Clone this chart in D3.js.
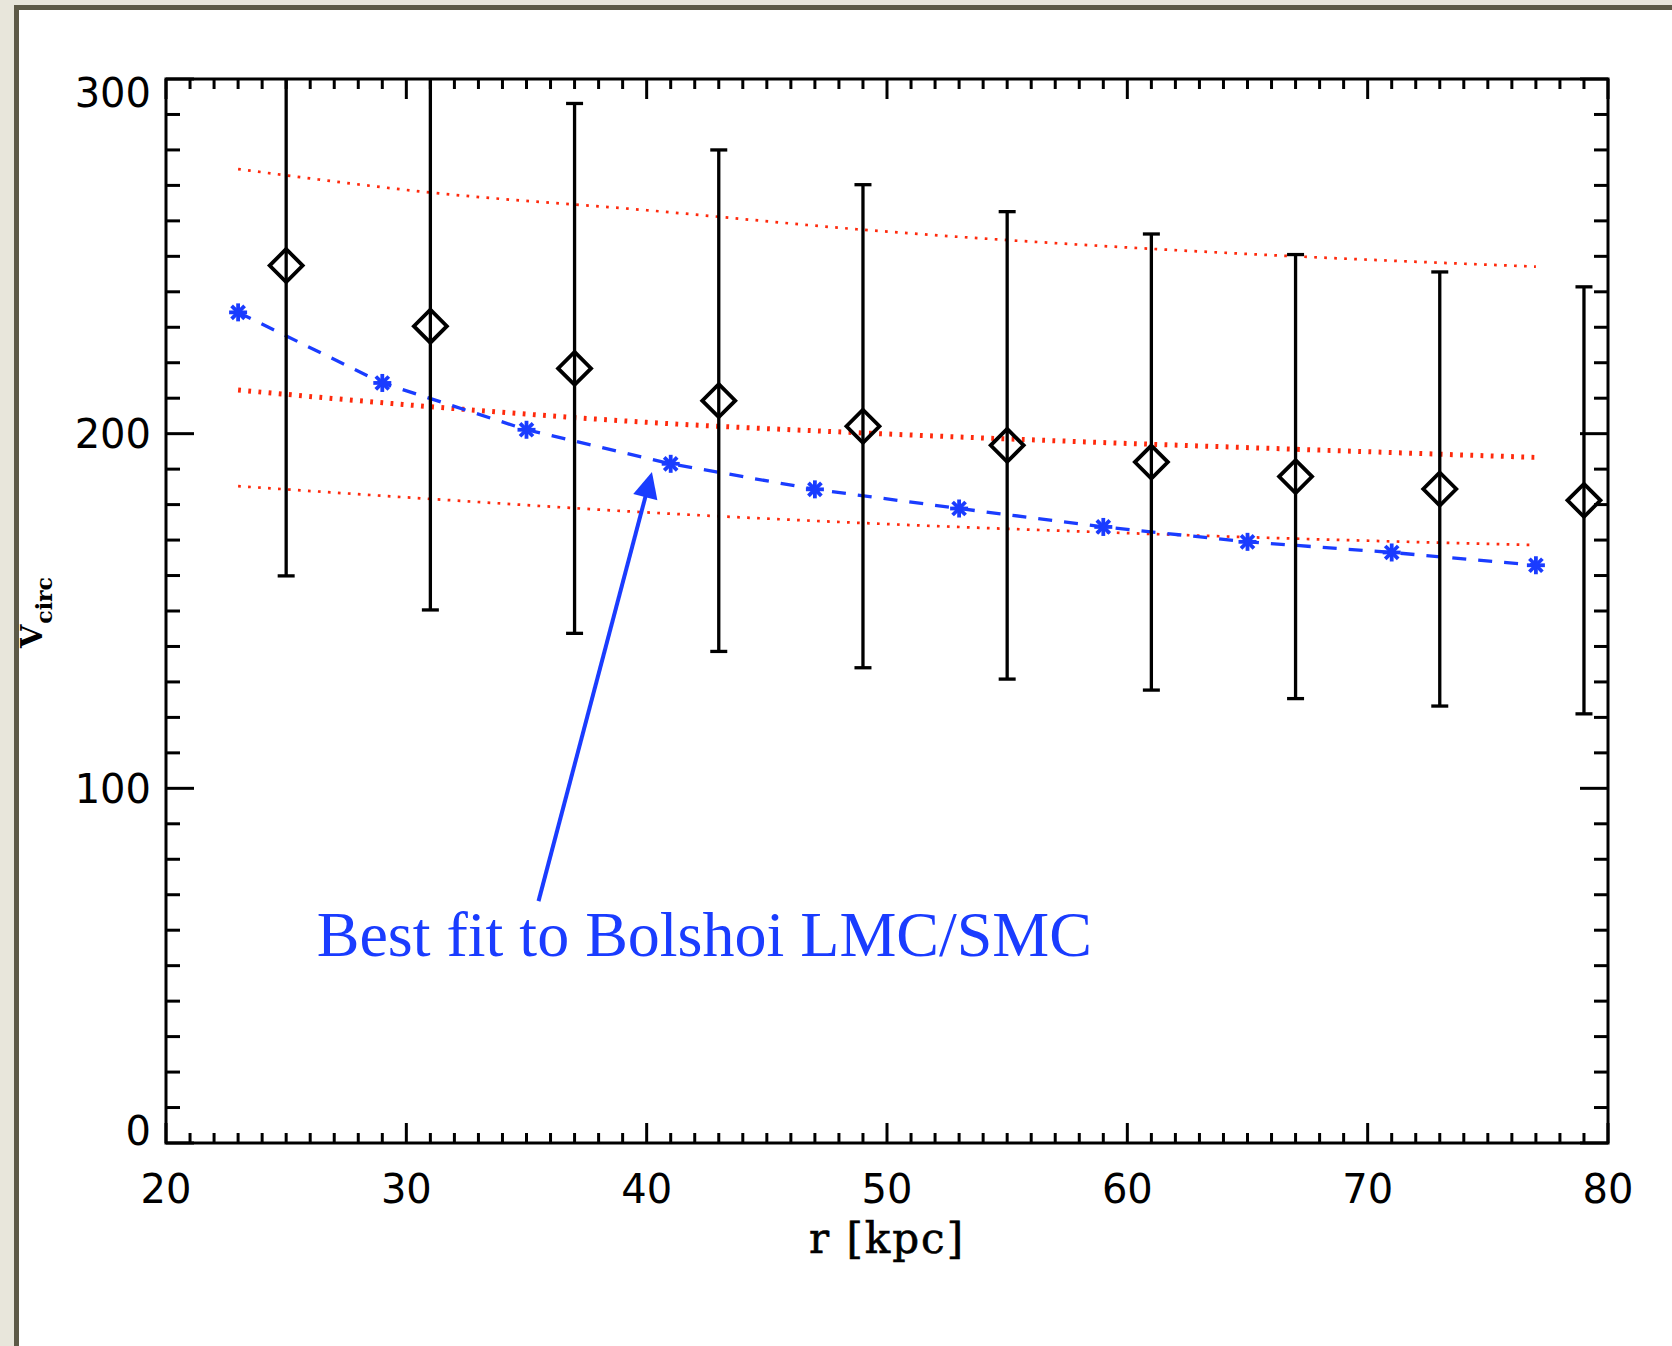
<!DOCTYPE html>
<html>
<head>
<meta charset="utf-8">
<script src="https://cdn.jsdelivr.net/npm/d3@7"></script>
<style>
  html, body { margin: 0; padding: 0; background: #e8e6db; }
  svg { display: block; }
</style>
</head>
<body>
<script>
// Radial bins with measured circular velocity and its 1-sigma error
const binR = [25, 31, 37, 43, 49, 55, 61, 67, 73, 79];
const binV = [247.4, 230.3, 218.4, 209.3, 202.1, 196.7, 192.0, 187.9, 184.4, 181.2];
const binErr = [87.5, 80.0, 74.7, 70.7, 68.1, 65.9, 64.3, 62.6, 61.2, 60.2];

// Best-fit curve from the Bolshoi LMC/SMC analogues
const fitR = [23, 29, 35, 41, 47, 53, 59, 65, 71, 77];
const fitV = [234.2, 214.3, 201.1, 191.5, 184.3, 178.9, 173.7, 169.5, 166.5, 162.9];

// Power-law fit (middle) and its upper / lower envelope
const bandR = [23, 31, 40, 49, 59, 67, 77];
const bandUpper = [274.6, 268.0, 263.0, 257.5, 252.9, 250.0, 247.1];
const bandMid = [212.3, 207.6, 203.2, 200.2, 197.5, 195.6, 193.3];
const bandLower = [185.2, 181.6, 177.8, 174.8, 172.2, 170.4, 168.6];

// Axis ticks
const xMajor = [20, 30, 40, 50, 60, 70, 80];
const yMajor = [0, 100, 200, 300];

const annotationText = "Best fit to Bolshoi LMC/SMC";

const W = 1672, H = 1346;
const blue = "#1a3cff", red = "#ff2a0c";

const svg = d3.select("body").append("svg").attr("width", W).attr("height", H);

// Page frame: backdrop, dark rule and white sheet
svg.append("rect").attr("x", 0).attr("y", 0).attr("width", W).attr("height", H).attr("fill", "#e8e6db");
svg.append("rect").attr("x", 14).attr("y", 5).attr("width", W).attr("height", H).attr("fill", "#5d5a47");
svg.append("rect").attr("x", 19).attr("y", 10).attr("width", W).attr("height", H).attr("fill", "#ffffff");

const pL = 166, pR = 1608, pT = 79, pB = 1143;
const x = d3.scaleLinear().domain([20, 80]).range([pL, pR]);
const y = d3.scaleLinear().domain([0, 300]).range([pB, pT]);

svg.append("clipPath").attr("id", "plotClip")
  .append("rect").attr("x", pL).attr("y", pT).attr("width", pR - pL).attr("height", pB - pT);

const plot = svg.append("g").attr("clip-path", "url(#plotClip)");

// Red power-law curves
const bandLine = vals => d3.line().x((d, i) => x(bandR[i])).y(d => y(d)).curve(d3.curveMonotoneX)(vals);
plot.append("path").attr("d", bandLine(bandUpper)).attr("fill", "none")
  .attr("stroke", red).attr("stroke-width", 2.7).attr("stroke-dasharray", "2.7 7.3");
plot.append("path").attr("d", bandLine(bandLower)).attr("fill", "none")
  .attr("stroke", red).attr("stroke-width", 2.7).attr("stroke-dasharray", "2.7 7.3");
plot.append("path").attr("d", bandLine(bandMid)).attr("fill", "none")
  .attr("stroke", red).attr("stroke-width", 5).attr("stroke-dasharray", "2.8 7.4");

// Blue dashed fit with asterisk markers
const fitLine = d3.line().x((d, i) => x(fitR[i])).y(d => y(d));
plot.append("path").attr("d", fitLine(fitV)).attr("fill", "none")
  .attr("stroke", blue).attr("stroke-width", 3.3).attr("stroke-dasharray", "14 12");

const star = plot.append("g").selectAll("g").data(fitV).join("g")
  .attr("transform", (d, i) => `translate(${x(fitR[i])},${y(d)})`);
const arm = 9;
[[0, -arm, 0, arm], [-arm, 0, arm, 0], [-arm * 0.72, -arm * 0.72, arm * 0.72, arm * 0.72], [-arm * 0.72, arm * 0.72, arm * 0.72, -arm * 0.72]]
  .forEach(s => {
    star.append("line").attr("x1", s[0]).attr("y1", s[1]).attr("x2", s[2]).attr("y2", s[3])
      .attr("stroke", blue).attr("stroke-width", 3.8);
  });

// Error bars with caps and open diamonds
const eb = plot.append("g").attr("stroke", "#000").attr("stroke-width", 3.3).attr("fill", "none");
binV.forEach((v, i) => {
  const cx = x(binR[i]), yTop = y(v + binErr[i]), yBot = y(v - binErr[i]);
  eb.append("line").attr("x1", cx).attr("x2", cx).attr("y1", yTop).attr("y2", yBot);
  eb.append("line").attr("x1", cx - 8.5).attr("x2", cx + 8.5).attr("y1", yTop).attr("y2", yTop);
  eb.append("line").attr("x1", cx - 8.5).attr("x2", cx + 8.5).attr("y1", yBot).attr("y2", yBot);
  const cy = y(v), h = 16.5;
  eb.append("path").attr("d", `M${cx},${cy - h}L${cx + h},${cy}L${cx},${cy + h}L${cx - h},${cy}Z`)
    .attr("stroke-width", 3.8).attr("stroke-linejoin", "miter");
});

// Axes box with inward ticks
const axes = svg.append("g").attr("stroke", "#000").attr("stroke-width", 3);
axes.append("rect").attr("x", pL).attr("y", pT).attr("width", pR - pL).attr("height", pB - pT).attr("fill", "none");

d3.range(20, 81, 1).forEach(t => {
  const len = xMajor.includes(t) ? 20 : 10;
  axes.append("line").attr("x1", x(t)).attr("x2", x(t)).attr("y1", pB).attr("y2", pB - len);
  axes.append("line").attr("x1", x(t)).attr("x2", x(t)).attr("y1", pT).attr("y2", pT + len);
});
d3.range(0, 301, 10).forEach(t => {
  const len = yMajor.includes(t) ? 28 : 14;
  axes.append("line").attr("y1", y(t)).attr("y2", y(t)).attr("x1", pL).attr("x2", pL + len);
  axes.append("line").attr("y1", y(t)).attr("y2", y(t)).attr("x1", pR).attr("x2", pR - len);
});

// Tick labels
const tickFont = "'DejaVu Sans', sans-serif";
svg.append("g").selectAll("text").data(xMajor).join("text")
  .attr("x", d => x(d)).attr("y", 1203)
  .attr("text-anchor", "middle").attr("font-family", tickFont).attr("font-size", 40)
  .text(d => d);
svg.append("g").selectAll("text").data(yMajor).join("text")
  .attr("x", 151)
  .attr("y", (d, i) => {
    if (i === 0) return y(d) + 1.5;
    if (i === yMajor.length - 1) return y(d) + 28;
    return y(d) + 14.5;
  })
  .attr("text-anchor", "end").attr("font-family", tickFont).attr("font-size", 40)
  .text(d => d);

// Axis titles
svg.append("text").attr("x", (pL + pR) / 2).attr("y", 1253)
  .attr("text-anchor", "middle").attr("font-family", "'DejaVu Serif', serif").attr("font-size", 42)
  .attr("letter-spacing", 2).attr("stroke", "#000").attr("stroke-width", 0.6)
  .text("r [kpc]");

const yTitle = svg.append("text").attr("transform", "translate(42,648) rotate(-90)")
  .attr("font-family", "'DejaVu Serif', serif").attr("font-weight", "bold");
yTitle.append("tspan").attr("font-size", 30).text("V");
yTitle.append("tspan").attr("font-size", 22).attr("dy", 10).attr("dx", 1).text("circ");

// Annotation arrow and label
const tail = [x(35.5), y(68.2)], tip = [x(40.22), y(189.2)];
const ddx = tip[0] - tail[0], ddy = tip[1] - tail[1], L = Math.hypot(ddx, ddy);
const ux = ddx / L, uy = ddy / L, headLen = 26, headHalf = 12.5;
const base = [tip[0] - ux * headLen, tip[1] - uy * headLen];
svg.append("line").attr("x1", tail[0]).attr("y1", tail[1]).attr("x2", base[0] + ux * 2).attr("y2", base[1] + uy * 2)
  .attr("stroke", blue).attr("stroke-width", 4);
svg.append("path")
  .attr("d", `M${tip[0]},${tip[1]}L${base[0] - uy * headHalf},${base[1] + ux * headHalf}L${base[0] + uy * headHalf},${base[1] - ux * headHalf}Z`)
  .attr("fill", blue);

svg.append("text").attr("x", x(26.27)).attr("y", y(52.7))
  .attr("font-family", "'Liberation Serif', 'Times New Roman', serif").attr("font-size", 64)
  .attr("fill", blue).text(annotationText);
</script>
</body>
</html>
